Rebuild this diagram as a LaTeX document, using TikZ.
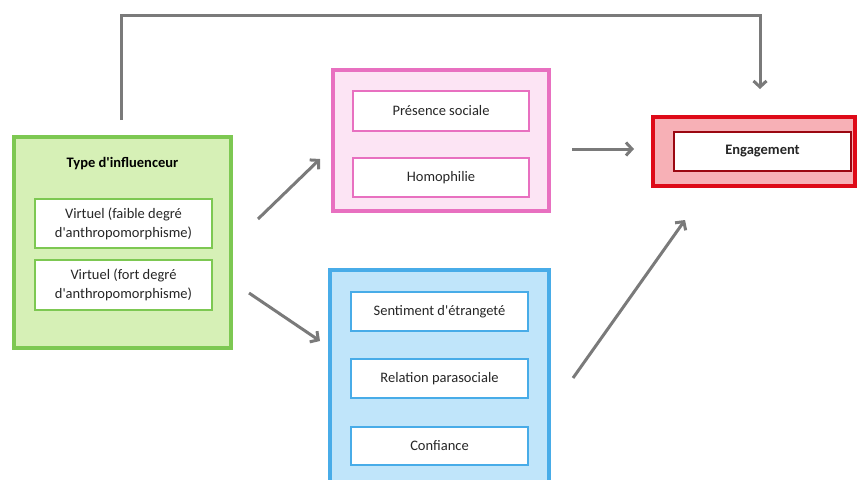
\documentclass[tikz,border=0pt]{standalone}
\usepackage{fontspec}
\setmainfont{Carlito}[Ligatures=TeXOff]
\usetikzlibrary{arrows.meta}
\definecolor{gfill}{RGB}{214,240,182}
\definecolor{gline}{RGB}{125,200,82}
\definecolor{pfill}{RGB}{252,228,244}
\definecolor{pline}{RGB}{232,112,192}
\definecolor{bfill}{RGB}{192,229,250}
\definecolor{bline}{RGB}{72,172,232}
\definecolor{rfill}{RGB}{247,176,182}
\definecolor{rline}{RGB}{222,10,24}
\definecolor{arr}{RGB}{122,122,122}
\begin{document}
\begin{tikzpicture}[x=1pt,y=-1pt,
  outerbox/.style={draw, line width=4pt, inner sep=0pt, outer sep=0pt},
  innerbox/.style={draw, fill=white, line width=1.6pt, inner sep=0pt, align=center,
    font=\fontsize{14.5}{19}\selectfont, text=black!85},
  conn/.style={draw=arr, line width=3pt, -{Straight Barb[length=6pt,width=13pt,line width=3pt]}},
  ]
\useasboundingbox (0,0) rectangle (861,479);
% green
\node[outerbox, draw=gline, fill=gfill, minimum width=217pt, minimum height=211pt] (green) at (122.5,242.5) {};
\node[font=\fontsize{14.5}{17}\selectfont\bfseries] (gtitle) at (122.5,164) {Type d'influenceur};
\node[innerbox, draw=gline, minimum width=177pt, minimum height=49pt] (g1) at (123.5,223.5) {Virtuel (faible degré\\d'anthropomorphisme)};
\node[innerbox, draw=gline, minimum width=177pt, minimum height=50pt] (g2) at (123.5,285) {Virtuel (fort degré\\d'anthropomorphisme)};
% pink
\node[outerbox, draw=pline, fill=pfill, minimum width=216pt, minimum height=141pt] (pink) at (441,140.5) {};
\node[innerbox, draw=pline, minimum width=176pt, minimum height=40pt] (p1) at (441,111) {Présence sociale};
\node[innerbox, draw=pline, minimum width=176pt, minimum height=39pt] (p2) at (441,177.5) {Homophilie};
% blue
\node[outerbox, draw=bline, fill=bfill, minimum width=219pt, minimum height=230pt] (blue) at (439.5,385) {};
\node[innerbox, draw=bline, minimum width=177pt, minimum height=39pt] (b1) at (439.5,311.5) {Sentiment d'étrangeté};
\node[innerbox, draw=bline, minimum width=177pt, minimum height=39pt] (b2) at (439.5,378.5) {Relation parasociale};
\node[innerbox, draw=bline, minimum width=177pt, minimum height=38pt] (b3) at (439.5,446) {Confiance};
% red
\node[outerbox, draw=rline, fill=rfill, minimum width=202pt, minimum height=69pt] (red) at (754,151.5) {};
\node[innerbox, draw=rline!70!black, font=\fontsize{14.5}{17}\selectfont\bfseries, minimum width=177pt, minimum height=39pt] (r1) at (762.5,151.5) {Engagement};
% arrow end points
\coordinate (a1s) at (258,219);  \coordinate (a1e) at (320,159);
\coordinate (a2s) at (249,293);  \coordinate (a2e) at (320,341);
\coordinate (a3s) at (572,149);  \coordinate (a3e) at (634,149);
\coordinate (a4s) at (573,378);  \coordinate (a4e) at (685,220);
\coordinate (a5s) at (121,120);  \coordinate (a5e) at (760,89);
\draw[conn] (a1s) -- (a1e);
\draw[conn] (a2s) -- (a2e);
\draw[conn] (a3s) -- (a3e);
\draw[conn] (a4s) -- (a4e);
\draw[conn] (a5s) -- (121,15) -- (760,15) -- (a5e);
\end{tikzpicture}
\end{document}
